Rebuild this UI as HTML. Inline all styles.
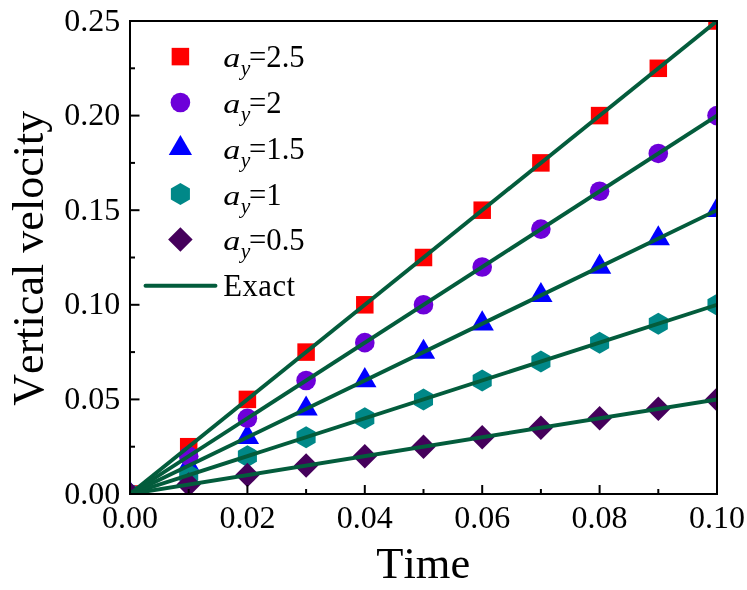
<!DOCTYPE html>
<html><head><meta charset="utf-8"><title>chart</title>
<style>
html,body{margin:0;padding:0;background:#fff;}
body{width:747px;height:590px;overflow:hidden;position:relative;}
svg{position:absolute;left:0;top:0;display:block;will-change:transform;}
text{font-family:"Liberation Serif",serif;fill:#000;font-kerning:none;}
.tk{font-size:32px;}
.ax{font-size:44.5px;}
.ay{font-size:44.1px;}
.lg{font-size:30.7px;}
.it{font-style:italic;}
.sub{font-size:21.5px;font-style:italic;}
</style></head><body>
<svg width="747" height="590" viewBox="0 0 747 590">
<rect x="0" y="0" width="747" height="590" fill="#fff"/>
<defs><clipPath id="cp"><rect x="130.0" y="21.0" width="587.0" height="473.0"/></clipPath></defs>
<g clip-path="url(#cp)">
<polygon points="130.00,480.55 141.65,500.73 118.35,500.73" fill="#0000ff"/>
<polygon points="188.70,452.17 200.35,472.35 177.05,472.35" fill="#0000ff"/>
<polygon points="247.40,423.79 259.05,443.97 235.75,443.97" fill="#0000ff"/>
<polygon points="306.10,395.41 317.75,415.59 294.45,415.59" fill="#0000ff"/>
<polygon points="364.80,367.03 376.45,387.21 353.15,387.21" fill="#0000ff"/>
<polygon points="423.50,338.65 435.15,358.82 411.85,358.82" fill="#0000ff"/>
<polygon points="482.20,310.27 493.85,330.45 470.55,330.45" fill="#0000ff"/>
<polygon points="540.90,281.89 552.55,302.06 529.25,302.06" fill="#0000ff"/>
<polygon points="599.60,253.51 611.25,273.69 587.95,273.69" fill="#0000ff"/>
<polygon points="658.30,225.13 669.95,245.30 646.65,245.30" fill="#0000ff"/>
<polygon points="717.00,196.75 728.65,216.92 705.35,216.92" fill="#0000ff"/>
<rect x="121.25" y="485.25" width="17.5" height="17.5" fill="#ff0000"/>
<rect x="179.95" y="437.95" width="17.5" height="17.5" fill="#ff0000"/>
<rect x="238.65" y="390.65" width="17.5" height="17.5" fill="#ff0000"/>
<rect x="297.35" y="343.35" width="17.5" height="17.5" fill="#ff0000"/>
<rect x="356.05" y="296.05" width="17.5" height="17.5" fill="#ff0000"/>
<rect x="414.75" y="248.75" width="17.5" height="17.5" fill="#ff0000"/>
<rect x="473.45" y="201.45" width="17.5" height="17.5" fill="#ff0000"/>
<rect x="532.15" y="154.15" width="17.5" height="17.5" fill="#ff0000"/>
<rect x="590.85" y="106.85" width="17.5" height="17.5" fill="#ff0000"/>
<rect x="649.55" y="59.55" width="17.5" height="17.5" fill="#ff0000"/>
<rect x="708.25" y="12.25" width="17.5" height="17.5" fill="#ff0000"/>
<circle cx="130.00" cy="494.00" r="9.8" fill="#6d00d9"/>
<circle cx="188.70" cy="456.16" r="9.8" fill="#6d00d9"/>
<circle cx="247.40" cy="418.32" r="9.8" fill="#6d00d9"/>
<circle cx="306.10" cy="380.48" r="9.8" fill="#6d00d9"/>
<circle cx="364.80" cy="342.64" r="9.8" fill="#6d00d9"/>
<circle cx="423.50" cy="304.80" r="9.8" fill="#6d00d9"/>
<circle cx="482.20" cy="266.96" r="9.8" fill="#6d00d9"/>
<circle cx="540.90" cy="229.12" r="9.8" fill="#6d00d9"/>
<circle cx="599.60" cy="191.28" r="9.8" fill="#6d00d9"/>
<circle cx="658.30" cy="153.44" r="9.8" fill="#6d00d9"/>
<circle cx="717.00" cy="115.60" r="9.8" fill="#6d00d9"/>
<polygon points="130.00,483.00 120.47,488.50 120.47,499.50 130.00,505.00 139.53,499.50 139.53,488.50" fill="#008888"/>
<polygon points="188.70,464.08 179.17,469.58 179.17,480.58 188.70,486.08 198.23,480.58 198.23,469.58" fill="#008888"/>
<polygon points="247.40,445.16 237.87,450.66 237.87,461.66 247.40,467.16 256.93,461.66 256.93,450.66" fill="#008888"/>
<polygon points="306.10,426.24 296.57,431.74 296.57,442.74 306.10,448.24 315.63,442.74 315.63,431.74" fill="#008888"/>
<polygon points="364.80,407.32 355.27,412.82 355.27,423.82 364.80,429.32 374.33,423.82 374.33,412.82" fill="#008888"/>
<polygon points="423.50,388.40 413.97,393.90 413.97,404.90 423.50,410.40 433.03,404.90 433.03,393.90" fill="#008888"/>
<polygon points="482.20,369.48 472.67,374.98 472.67,385.98 482.20,391.48 491.73,385.98 491.73,374.98" fill="#008888"/>
<polygon points="540.90,350.56 531.37,356.06 531.37,367.06 540.90,372.56 550.43,367.06 550.43,356.06" fill="#008888"/>
<polygon points="599.60,331.64 590.07,337.14 590.07,348.14 599.60,353.64 609.13,348.14 609.13,337.14" fill="#008888"/>
<polygon points="658.30,312.72 648.77,318.22 648.77,329.22 658.30,334.72 667.83,329.22 667.83,318.22" fill="#008888"/>
<polygon points="717.00,293.80 707.47,299.30 707.47,310.30 717.00,315.80 726.53,310.30 726.53,299.30" fill="#008888"/>
<polygon points="130.00,481.75 142.25,494.00 130.00,506.25 117.75,494.00" fill="#45005b"/>
<polygon points="188.70,472.29 200.95,484.54 188.70,496.79 176.45,484.54" fill="#45005b"/>
<polygon points="247.40,462.83 259.65,475.08 247.40,487.33 235.15,475.08" fill="#45005b"/>
<polygon points="306.10,453.37 318.35,465.62 306.10,477.87 293.85,465.62" fill="#45005b"/>
<polygon points="364.80,443.91 377.05,456.16 364.80,468.41 352.55,456.16" fill="#45005b"/>
<polygon points="423.50,434.45 435.75,446.70 423.50,458.95 411.25,446.70" fill="#45005b"/>
<polygon points="482.20,424.99 494.45,437.24 482.20,449.49 469.95,437.24" fill="#45005b"/>
<polygon points="540.90,415.53 553.15,427.78 540.90,440.03 528.65,427.78" fill="#45005b"/>
<polygon points="599.60,406.07 611.85,418.32 599.60,430.57 587.35,418.32" fill="#45005b"/>
<polygon points="658.30,396.61 670.55,408.86 658.30,421.11 646.05,408.86" fill="#45005b"/>
<polygon points="717.00,387.15 729.25,399.40 717.00,411.65 704.75,399.40" fill="#45005b"/>
<line x1="130.00" y1="494.00" x2="717.00" y2="21.00" stroke="#035c3c" stroke-width="3.9"/>
<line x1="130.00" y1="494.00" x2="717.00" y2="115.60" stroke="#035c3c" stroke-width="3.9"/>
<line x1="130.00" y1="494.00" x2="717.00" y2="210.20" stroke="#035c3c" stroke-width="3.9"/>
<line x1="130.00" y1="494.00" x2="717.00" y2="304.80" stroke="#035c3c" stroke-width="3.9"/>
<line x1="130.00" y1="494.00" x2="717.00" y2="399.40" stroke="#035c3c" stroke-width="3.9"/>
</g>
<g stroke="#000" stroke-width="2" fill="none">
<line x1="130.00" y1="494.0" x2="130.00" y2="485.0"/>
<line x1="247.40" y1="494.0" x2="247.40" y2="485.0"/>
<line x1="364.80" y1="494.0" x2="364.80" y2="485.0"/>
<line x1="482.20" y1="494.0" x2="482.20" y2="485.0"/>
<line x1="599.60" y1="494.0" x2="599.60" y2="485.0"/>
<line x1="717.00" y1="494.0" x2="717.00" y2="485.0"/>
<line x1="188.70" y1="494.0" x2="188.70" y2="489.0"/>
<line x1="306.10" y1="494.0" x2="306.10" y2="489.0"/>
<line x1="423.50" y1="494.0" x2="423.50" y2="489.0"/>
<line x1="540.90" y1="494.0" x2="540.90" y2="489.0"/>
<line x1="658.30" y1="494.0" x2="658.30" y2="489.0"/>
<line x1="130.0" y1="494.00" x2="139.5" y2="494.00"/>
<line x1="130.0" y1="399.40" x2="139.5" y2="399.40"/>
<line x1="130.0" y1="304.80" x2="139.5" y2="304.80"/>
<line x1="130.0" y1="210.20" x2="139.5" y2="210.20"/>
<line x1="130.0" y1="115.60" x2="139.5" y2="115.60"/>
<line x1="130.0" y1="21.00" x2="139.5" y2="21.00"/>
<line x1="130.0" y1="446.70" x2="135.0" y2="446.70"/>
<line x1="130.0" y1="352.10" x2="135.0" y2="352.10"/>
<line x1="130.0" y1="257.50" x2="135.0" y2="257.50"/>
<line x1="130.0" y1="162.90" x2="135.0" y2="162.90"/>
<line x1="130.0" y1="68.30" x2="135.0" y2="68.30"/>
<rect x="130.0" y="21.0" width="587.0" height="473.0"/>
</g>
<text class="tk" x="130.00" y="528.2" text-anchor="middle">0.00</text>
<text class="tk" x="247.40" y="528.2" text-anchor="middle">0.02</text>
<text class="tk" x="364.80" y="528.2" text-anchor="middle">0.04</text>
<text class="tk" x="482.20" y="528.2" text-anchor="middle">0.06</text>
<text class="tk" x="599.60" y="528.2" text-anchor="middle">0.08</text>
<text class="tk" x="717.00" y="528.2" text-anchor="middle">0.10</text>
<text class="tk" x="120.3" y="503.50" text-anchor="end">0.00</text>
<text class="tk" x="120.3" y="408.90" text-anchor="end">0.05</text>
<text class="tk" x="120.3" y="314.30" text-anchor="end">0.10</text>
<text class="tk" x="120.3" y="219.70" text-anchor="end">0.15</text>
<text class="tk" x="120.3" y="125.10" text-anchor="end">0.20</text>
<text class="tk" x="120.3" y="30.50" text-anchor="end">0.25</text>
<text class="ax" x="423.3" y="578" text-anchor="middle">Time</text>
<text class="ay" transform="translate(43.0,258.2) rotate(-90)" text-anchor="middle">Vertical velocity</text>
<rect x="171.65" y="47.85" width="17.5" height="17.5" fill="#ff0000"/>
<text class="lg it" transform="translate(223.2,67.10) scale(1.11,0.92)">a</text>
<text class="lg" x="240.85" y="75.30"><tspan class="sub">y</tspan><tspan dx="-1.4" dy="-8.2">=2.5</tspan></text>
<circle cx="180.40" cy="102.50" r="9.8" fill="#6d00d9"/>
<text class="lg it" transform="translate(223.2,113.00) scale(1.11,0.92)">a</text>
<text class="lg" x="240.85" y="121.20"><tspan class="sub">y</tspan><tspan dx="-1.4" dy="-8.2">=2</tspan></text>
<polygon points="180.40,134.95 192.05,155.12 168.75,155.12" fill="#0000ff"/>
<text class="lg it" transform="translate(223.2,158.90) scale(1.11,0.92)">a</text>
<text class="lg" x="240.85" y="167.10"><tspan class="sub">y</tspan><tspan dx="-1.4" dy="-8.2">=1.5</tspan></text>
<polygon points="180.40,183.10 170.87,188.60 170.87,199.60 180.40,205.10 189.93,199.60 189.93,188.60" fill="#008888"/>
<text class="lg it" transform="translate(223.2,204.60) scale(1.11,0.92)">a</text>
<text class="lg" x="240.85" y="212.80"><tspan class="sub">y</tspan><tspan dx="-1.4" dy="-8.2">=1</tspan></text>
<polygon points="180.40,227.35 192.65,239.60 180.40,251.85 168.15,239.60" fill="#45005b"/>
<text class="lg it" transform="translate(223.2,250.10) scale(1.11,0.92)">a</text>
<text class="lg" x="240.85" y="258.30"><tspan class="sub">y</tspan><tspan dx="-1.4" dy="-8.2">=0.5</tspan></text>
<line x1="145.5" y1="285.8" x2="215.5" y2="285.8" stroke="#035c3c" stroke-width="3.9" stroke-linecap="round"/>
<text class="lg" x="223.2" y="295.70" letter-spacing="0.5">Exact</text>
</svg></body></html>
